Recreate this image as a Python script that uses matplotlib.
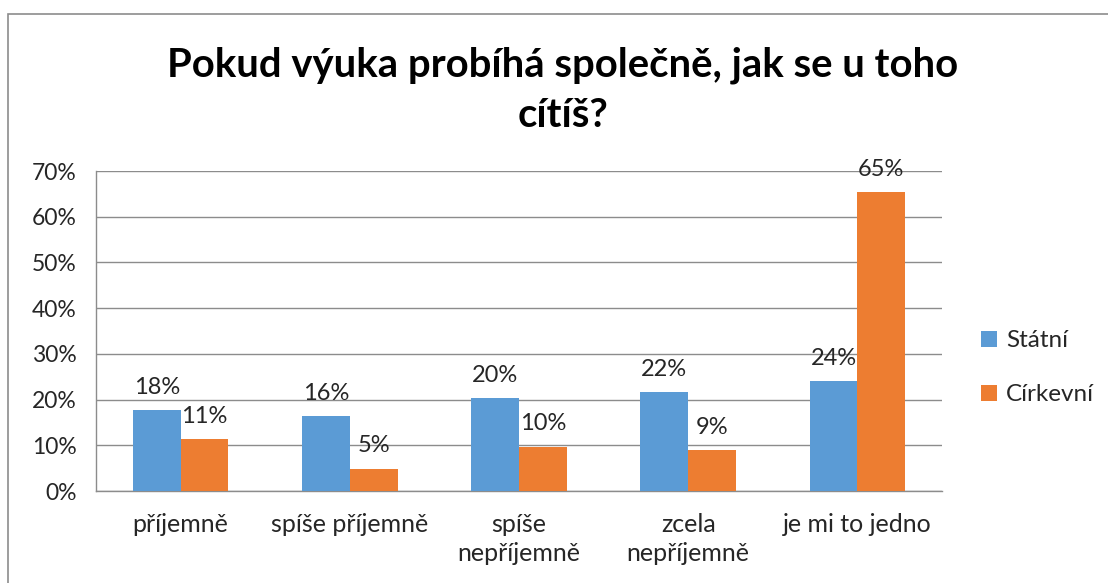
import matplotlib
matplotlib.use("Agg")
import matplotlib.pyplot as plt
from matplotlib.patches import Rectangle
from matplotlib.ticker import FuncFormatter, MultipleLocator
import numpy as np

categories = ["příjemně", "spíše příjemně", "spíše\nnepříjemně", "zcela\nnepříjemně", "je mi to jedno"]
statni = [17.7, 16.4, 20.3, 21.6, 24.0]
cirkevni = [11.3, 4.9, 9.7, 8.9, 65.3]
series_names = ["Státní", "Církevní"]
title_text = "Pokud výuka probíhá společně, jak se u toho\ncítíš?"

plt.rcParams['font.family'] = ['Lato', 'DejaVu Sans']
text_color = '#262626'
grid_color = '#8c8c8c'
blue = '#5B9BD5'
orange = '#ED7D31'

W, H = 1108, 583
fig = plt.figure(figsize=(W / 100, H / 100), dpi=100)
fig.patch.set_facecolor('white')

# outer chart border
fig.patches.append(Rectangle((8 / W, -0.1), 1.2, 1 - 14 / H + 0.1, transform=fig.transFigure,
                             fill=False, edgecolor='#8c8c8c', linewidth=1.2))

ax = fig.add_axes([96 / W, 1 - 491 / H, (942 - 96) / W, (491 - 171) / H])
x = np.arange(len(categories))
bw = 0.283
b1 = ax.bar(x - bw / 2, statni, bw, color=blue, label=series_names[0], zorder=3)
b2 = ax.bar(x + bw / 2, cirkevni, bw, color=orange, label=series_names[1], zorder=3)

for bars, vals in ((b1, statni), (b2, cirkevni)):
    for rect, v in zip(bars, vals):
        ax.annotate(f"{round(v):.0f}%", (rect.get_x() + rect.get_width() / 2, rect.get_height()),
                    xytext=(0, 9), textcoords='offset points', ha='center', va='bottom',
                    fontsize=17, color=text_color, zorder=4)

ax.set_xlim(-0.5, len(categories) - 0.5)
ax.set_ylim(0, 70)
ax.yaxis.set_major_locator(MultipleLocator(10))
ax.yaxis.set_major_formatter(FuncFormatter(lambda v, p: f"{v:.0f}%"))
ax.grid(axis='y', color=grid_color, linewidth=1.0, zorder=0)
ax.set_axisbelow(True)
for s in ['top', 'right']:
    ax.spines[s].set_visible(False)
ax.spines['left'].set_color(grid_color)
ax.spines['bottom'].set_color(grid_color)
ax.spines['left'].set_linewidth(1.0)
ax.spines['bottom'].set_linewidth(1.0)
ax.tick_params(axis='y', length=0, pad=14, labelsize=16.5, labelcolor=text_color)
ax.tick_params(axis='x', length=0, pad=16, labelsize=18, labelcolor=text_color)
ax.set_xticks(x)
ax.set_xticklabels(categories, linespacing=1.3, va='top')

fig.text(563 / W, 1 - 90 / H, title_text, ha='center', va='center', fontsize=28.8,
         fontweight='bold', color='black', linespacing=1.45)

leg = ax.legend(loc='center left', bbox_to_anchor=(1.02, 0.385), frameon=False,
                fontsize=17.5, handlelength=0.65, handleheight=0.65, handletextpad=0.4,
                labelspacing=1.35, labelcolor=text_color)

fig.savefig("out.png", dpi=100, facecolor='white')
